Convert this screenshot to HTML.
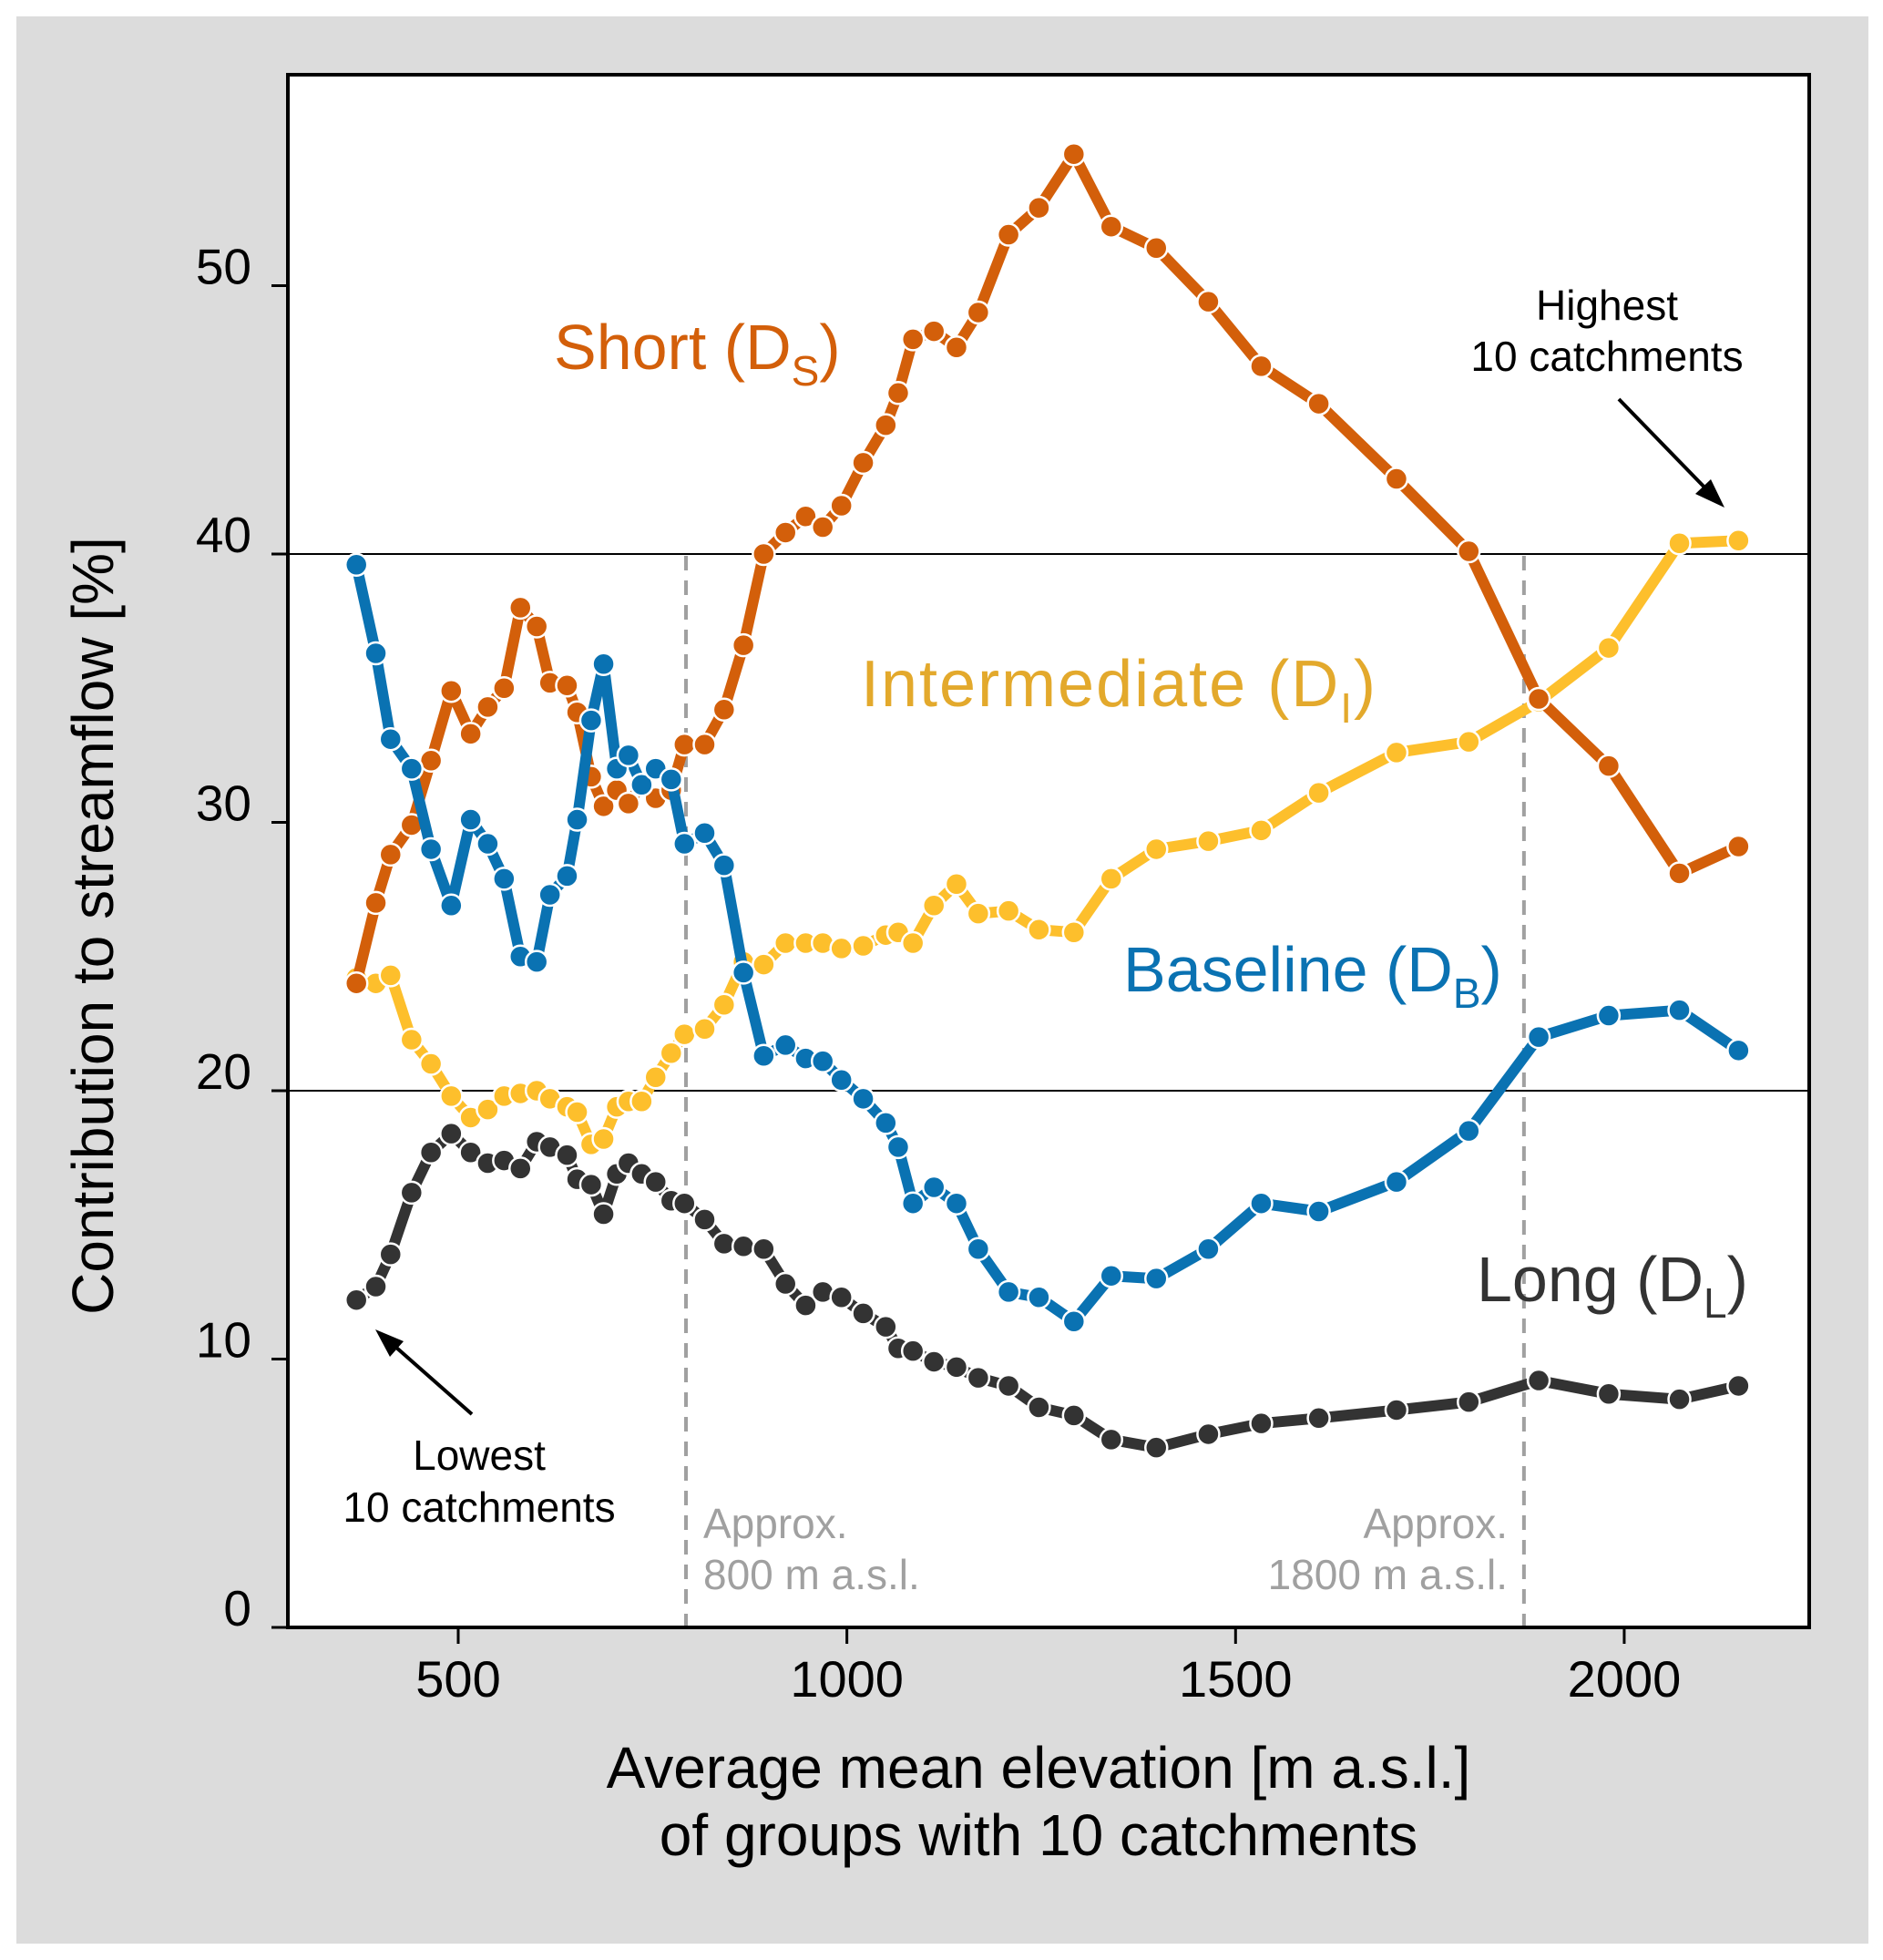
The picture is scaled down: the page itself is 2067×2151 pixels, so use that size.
<!DOCTYPE html>
<html><head><meta charset="utf-8"><style>
html,body{margin:0;padding:0;background:#fff;}
svg{display:block;font-family:"Liberation Sans",Arial,sans-serif;}
</style></head><body>
<svg id="chart" width="2067" height="2151" viewBox="0 0 2067 2151" xmlns="http://www.w3.org/2000/svg">
<rect x="0" y="0" width="2067" height="2151" fill="#ffffff"/>
<rect x="18" y="18" width="2033" height="2115" fill="#dcdcdc"/>
<rect x="316" y="82" width="1670" height="1704" fill="#ffffff"/>
<g id="grid"></g>
<g id="refs"></g>
<g id="series"></g>
<g id="axes"></g>
<g id="labels">
<text x="608" y="405" font-size="70" fill="#d35f0a">Short (D<tspan font-size="46" dy="18">S</tspan><tspan dy="-18">)</tspan></text>
<text x="945" y="775" font-size="72" letter-spacing="2" fill="#e3a92c">Intermediate (D<tspan font-size="46" dy="18">I</tspan><tspan dy="-18">)</tspan></text>
<text x="1233" y="1088" font-size="70" fill="#0a72b2">Baseline (D<tspan font-size="46" dy="18">B</tspan><tspan dy="-18">)</tspan></text>
<text x="1621" y="1428" font-size="70" fill="#333333">Long (D<tspan font-size="46" dy="18">L</tspan><tspan dy="-18">)</tspan></text>
<text x="1764" y="351" font-size="46" text-anchor="middle" fill="#000">Highest</text>
<text x="1764" y="407" font-size="46" text-anchor="middle" fill="#000">10 catchments</text>
<text x="526" y="1613" font-size="46" text-anchor="middle" fill="#000">Lowest</text>
<text x="526" y="1670" font-size="46" text-anchor="middle" fill="#000">10 catchments</text>
<text x="772" y="1688" font-size="46" fill="#a0a0a0">Approx.</text>
<text x="772" y="1744" font-size="46" fill="#a0a0a0">800 m a.s.l.</text>
<text x="1655" y="1688" font-size="46" text-anchor="end" fill="#a0a0a0">Approx.</text>
<text x="1655" y="1744" font-size="46" text-anchor="end" fill="#a0a0a0">1800 m a.s.l.</text>
<line x1="1777" y1="438" x2="1880" y2="544" stroke="#000" stroke-width="4"/>
<polygon points="1893,557 1861,542 1878,526" fill="#000"/>
<line x1="518" y1="1552" x2="425" y2="1470" stroke="#000" stroke-width="4"/>
<polygon points="412,1459 443,1472 428,1489" fill="#000"/>
<text x="1140" y="1962" font-size="64" text-anchor="middle" fill="#000">Average mean elevation [m a.s.l.]</text>
<text x="1140" y="2036" font-size="64" text-anchor="middle" fill="#000">of groups with 10 catchments</text>
<text x="0" y="0" font-size="64" text-anchor="middle" fill="#000" transform="translate(124,1016) rotate(-90)">Contribution to streamflow [%]</text>
</g>
</svg>
<script>
const elevations = [369,394,413,440,465,491,516,538,559,580,601,618,640,653,671,687,704,719,736,754,774,791,817,842,867,893,921,947,969,993,1021,1050,1066,1085,1112,1141,1169,1208,1247,1292,1340,1398,1465,1533,1607,1707,1800,1890,1980,2071,2147];
const shortVals = [24.0,27.0,28.8,29.9,32.3,34.9,33.3,34.3,35.0,38.0,37.3,35.2,35.1,34.1,31.7,30.6,31.2,30.7,31.4,30.9,31.2,32.9,32.9,34.2,36.6,40.0,40.8,41.4,41.0,41.8,43.4,44.8,46.0,48.0,48.3,47.7,49.0,51.9,52.9,54.9,52.2,51.4,49.4,47.0,45.6,42.8,40.1,34.6,32.1,28.1,29.1];
const interVals = [24.2,24.0,24.3,21.9,21.0,19.8,19.0,19.3,19.8,19.9,20.0,19.7,19.4,19.2,18.0,18.2,19.4,19.6,19.6,20.5,21.4,22.1,22.3,23.2,24.8,24.7,25.5,25.5,25.5,25.3,25.4,25.8,25.9,25.5,26.9,27.7,26.6,26.7,26.0,25.9,27.9,29.0,29.3,29.7,31.1,32.6,33.0,34.5,36.5,40.4,40.5];
const baseVals = [39.6,36.3,33.1,32.0,29.0,26.9,30.1,29.2,27.9,25.0,24.8,27.3,28.0,30.1,33.8,35.9,32.0,32.5,31.4,32.0,31.6,29.2,29.6,28.4,24.4,21.3,21.7,21.2,21.1,20.4,19.7,18.8,17.9,15.8,16.4,15.8,14.1,12.5,12.3,11.4,13.1,13.0,14.1,15.8,15.5,16.6,18.5,22.0,22.8,23.0,21.5];
const longVals = [12.2,12.7,13.9,16.2,17.7,18.4,17.7,17.3,17.4,17.1,18.1,17.9,17.6,16.7,16.5,15.4,16.9,17.3,16.9,16.6,15.9,15.8,15.2,14.3,14.2,14.1,12.8,12.0,12.5,12.3,11.7,11.2,10.4,10.3,9.9,9.7,9.3,9.0,8.2,7.9,7.0,6.7,7.2,7.6,7.8,8.1,8.4,9.2,8.7,8.5,9.0];
const xTicks = [500,1000,1500,2000];
const yTicks = [0,10,20,30,40,50];
const gridValues = [20,40];
const refElevations = [793,1871];

const NS = "http://www.w3.org/2000/svg";
const X0 = 316, X1 = 1986, Y0 = 82, Y1 = 1786;
function xs(v){ return 503 + (v - 500) * 0.8533; }
function ys(v){ return 1786 - v * 29.45; }
function mk(tag, attrs, parent){
  const e = document.createElementNS(NS, tag);
  for (const k in attrs) e.setAttribute(k, attrs[k]);
  parent.appendChild(e);
  return e;
}
const grid = document.getElementById('grid');
gridValues.forEach(g => {
  const l = mk('line', {x1:X0, x2:X1, y1:ys(g), y2:ys(g), stroke:'#000', 'stroke-width':2}, grid);
  
  
});
const refs = document.getElementById('refs');
refElevations.forEach(r => {
  const l = mk('line', {x1:xs(r), x2:xs(r), y1:ys(40)+2, y2:Y1, stroke:'#a0a0a0', 'stroke-width':4, 'stroke-dasharray':'16 11'}, refs);
  
  
});
const seriesG = document.getElementById('series');
const seriesList = [
  {name:'long', vals:longVals, color:'#333333'},
  {name:'intermediate', vals:interVals, color:'#fdbf2c'},
  {name:'short', vals:shortVals, color:'#d35f0a'},
  {name:'baseline', vals:baseVals, color:'#0a72b2'}
];
seriesList.forEach(s => {
  const g = mk('g', {}, seriesG);
  
  
  const pts = s.vals.map((v,i) => xs(elevations[i]).toFixed(1) + ',' + ys(v).toFixed(1)).join(' ');
  const pl = mk('polyline', {points:pts, fill:'none', stroke:s.color, 'stroke-width':12, 'stroke-linejoin':'round'}, g);
  
  
  s.vals.forEach((v,i) => {
    const c = mk('circle', {cx:xs(elevations[i]), cy:ys(v), r:12, fill:s.color, stroke:'#fff', 'stroke-width':2.5}, g);
    
    
  });
});
const axes = document.getElementById('axes');
const frame = mk('rect', {x:X0, y:Y0, width:X1-X0, height:Y1-Y0, fill:'none', stroke:'#000', 'stroke-width':4}, axes);


yTicks.forEach(t => {
  const l = mk('line', {x1:X0-18, x2:X0, y1:ys(t), y2:ys(t), stroke:'#000', 'stroke-width':3}, axes);
  
  
  const tx = mk('text', {x:X0-40, y:ys(t)-2, 'font-size':55, 'text-anchor':'end', fill:'#000'}, axes);
  tx.textContent = String(t);
  
  
});
xTicks.forEach(t => {
  const l = mk('line', {x1:xs(t), x2:xs(t), y1:Y1, y2:Y1+18, stroke:'#000', 'stroke-width':3}, axes);
  
  
  const tx = mk('text', {x:xs(t), y:Y1+76, 'font-size':56, 'text-anchor':'middle', fill:'#000'}, axes);
  tx.textContent = String(t);
  
  
});
</script>
</body></html>
